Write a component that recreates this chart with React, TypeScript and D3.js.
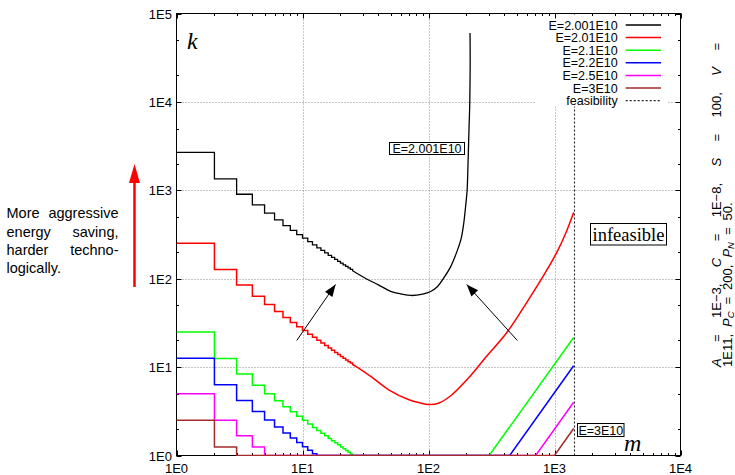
import React, { useMemo } from 'react';
import * as d3 from 'd3';

type Pt = [number, number];

const W = 735;
const H = 475;
const PLOT = { left: 176.5, right: 680.5, top: 13.5, bottom: 455.5 };

const SANS = "'Liberation Sans', Arial, Helvetica, sans-serif";
const SERIF = "'Liberation Serif', 'Times New Roman', serif";

// Axis ticks (log–log, decades)
const xTickValues = [1, 10, 100, 1000, 10000];
const xTickLabels = ['1E0', '1E1', '1E2', '1E3', '1E4'];
const yTickValues = [1, 10, 100, 1000, 10000, 100000];
const yTickLabels = ['1E0', '1E1', '1E2', '1E3', '1E4', '1E5'];
const yMinorFactors = [2, 5];

// One curve per energy budget E
const energyLabels = ['E=2.001E10', 'E=2.01E10', 'E=2.1E10', 'E=2.2E10', 'E=2.5E10', 'E=3E10'];
const seriesColors = ['#000000', '#ff0000', '#00ff00', '#0000ff', '#ff00ff', '#a52a2a'];

// k for integer m = 1, 2, 3, ... (stepped part)
const stepsE2001 = [2680, 1347, 902, 683, 552, 462, 398, 352, 316, 287, 262, 241, 223, 209, 196, 184, 174, 165, 157, 150, 143.5, 137.7, 132.3, 127.3];
const stepsE201 = [252, 127, 85, 63.5, 51, 42.5, 36.5, 32, 28.6, 25.9, 23.6, 21.7, 20.1, 18.7, 17.5, 16.4, 15.5, 14.6, 13.9, 13.2, 12.6, 12.0, 11.5, 11.1];
const stepsE21 = [25, 12.5, 8.33, 6.25, 5, 4.17, 3.57, 3.13, 2.78, 2.5, 2.27, 2.08, 1.92, 1.79, 1.67, 1.56, 1.47, 1.39, 1.32, 1.25, 1.19, 1.14, 1.09, 1.04];
const stepsE22 = [12.6, 6.3, 4.2, 3.15, 2.52, 2.1, 1.8, 1.58, 1.4, 1.26, 1.15, 1.05];
const stepsE25 = [5, 2.5, 1.67, 1.25];
const stepsE3 = [2.5, 1.25];

// continuation after the last step, as [m, k]
const tailE2001: Pt[] = [
  [25, 123], [32, 100], [40, 85.3], [49, 73], [60, 67.5], [73, 64.6], [90, 67], [104, 71.6],
  [118, 81.6], [132, 101.6], [150, 137], [170, 212], [182, 288], [190.5, 425], [197, 656],
  [202.5, 1000], [206, 2032], [209.5, 4830], [212.6, 10000], [213.5, 60000],
];
const tailE201: Pt[] = [
  [25, 10.7], [26.5, 10.2], [35, 7.8], [48.7, 5.5], [70, 4.27], [85, 3.95], [101, 3.78],
  [120, 3.9], [147.5, 4.65], [212, 7.8], [288, 13.2], [416, 24.3], [598, 53], [811, 106],
  [1036, 195], [1230, 329], [1419, 561],
];
const tailE21: Pt[] = [[25, 1], [303, 1], [1419, 21.6]];
const tailE22: Pt[] = [[13, 1], [441, 1], [1419, 10.35]];
const tailE25: Pt[] = [[5, 1], [709, 1], [1419, 4.0]];
const tailE3: Pt[] = [[3, 1], [1000, 1], [1419, 2.02]];

const seriesSteps = [stepsE2001, stepsE201, stepsE21, stepsE22, stepsE25, stepsE3];
const seriesTails = [tailE2001, tailE201, tailE21, tailE22, tailE25, tailE3];
const seriesSmooth = [true, true, false, false, false, false];

// largest feasible m
const feasibilityM = 1419;

// annotation arrows, [tail, tip] in data coordinates
const arrowLeft: Pt[] = [[9, 20], [18.3, 86]];
const arrowRight: Pt[] = [[507, 20], [201, 86]];

const leftTextLines = [['More', 'aggressive'], ['energy', 'saving,'], ['harder', 'techno-'], ['logically.']];

type Tok = { t: string; it?: boolean; sub?: string };
const paramLine1: Tok[] = [
  { t: 'A', it: true }, { t: '=' }, { t: '1E−3,' }, { t: 'C', it: true }, { t: '=' }, { t: '1E−8,' },
  { t: 'S', it: true }, { t: '=' }, { t: '100,' }, { t: 'V', it: true }, { t: '=' },
];
const paramLine2: Tok[] = [
  { t: '1E11,' }, { t: 'P', it: true, sub: 'C' }, { t: '=' }, { t: '200,' }, { t: 'P', it: true, sub: 'N' },
  { t: '=' }, { t: '50.' },
];

const PARAM_SIZE = 13;
const PARAM_SUB = 9.5;

function arrowHead(x1: number, y1: number, x2: number, y2: number, len: number, half: number) {
  const dx = x2 - x1;
  const dy = y2 - y1;
  const L = Math.hypot(dx, dy);
  const ux = dx / L;
  const uy = dy / L;
  const bx = x2 - ux * len;
  const by = y2 - uy * len;
  return `${x2},${y2} ${bx - uy * half},${by + ux * half} ${bx + uy * half},${by - ux * half}`;
}

function useTokenLayout(tokens: Tok[], size: number, subSize: number, total: number | null, gap: number) {
  return useMemo(() => {
    let ctx: CanvasRenderingContext2D | null = null;
    try {
      ctx = document.createElement('canvas').getContext('2d');
    } catch (e) {
      ctx = null;
    }
    const measure = (s: string, italic: boolean, px: number) => {
      if (!ctx) return s.length * px * 0.56;
      ctx.font = `${italic ? 'italic ' : ''}${px}px 'Liberation Sans'`;
      return ctx.measureText(s).width;
    };
    const widths = tokens.map((tk) => measure(tk.t, !!tk.it, size) + (tk.sub ? measure(tk.sub, true, subSize) : 0));
    const sum = widths.reduce((a, b) => a + b, 0);
    const g = total != null ? (total - sum) / (tokens.length - 1) : gap;
    const pos: number[] = [];
    let acc = 0;
    widths.forEach((w) => {
      pos.push(acc);
      acc += w + g;
    });
    return pos;
  }, [tokens, size, subSize, total, gap]);
}

export default function App() {
  const x = d3.scaleLog().domain([1, 1e4]).range([PLOT.left, PLOT.right]);
  const y = d3.scaleLog().domain([1, 1e5]).range([PLOT.bottom, PLOT.top]);

  const stepLine = d3.line<Pt>().x((d) => x(d[0])).y((d) => y(d[1])).curve(d3.curveStepAfter);
  const smoothLine = d3.line<Pt>().x((d) => x(d[0])).y((d) => y(d[1])).curve(d3.curveCatmullRom.alpha(0.5));
  const straightLine = d3.line<Pt>().x((d) => x(d[0])).y((d) => y(d[1])).curve(d3.curveLinear);

  const curvePaths = seriesSteps.map((steps, i) => {
    const tail = seriesTails[i];
    const pts: Pt[] = steps.map((k, j) => [j + 1, k] as Pt);
    pts.push(tail[0]);
    const a = stepLine(pts) || '';
    const b = (seriesSmooth[i] ? smoothLine : straightLine)(tail) || '';
    return a + b.replace(/^M/, 'L');
  });

  const xMinor: number[] = [];
  for (let d = 0; d < 4; d++) for (let j = 2; j <= 9; j++) xMinor.push(j * Math.pow(10, d));
  const yMinor: number[] = [];
  for (let d = 0; d < 5; d++) yMinorFactors.forEach((j) => yMinor.push(j * Math.pow(10, d)));

  const pos1 = useTokenLayout(paramLine1, PARAM_SIZE, PARAM_SUB, 324, 0);
  const pos2 = useTokenLayout(paramLine2, PARAM_SIZE, PARAM_SUB, null, 7);

  const gridColor = '#8c8c8c';
  const majorLen = 5;
  const minorLen = 2.5;

  const legendX = 617.7;
  const legendLineX1 = 625.7;
  const legendLineX2 = 661;
  const legendY0 = 25;
  const legendDy = 12.6;

  const a1 = arrowLeft.map((p) => [x(p[0]), y(p[1])]);
  const a2 = arrowRight.map((p) => [x(p[0]), y(p[1])]);

  const renderTokens = (tokens: Tok[], pos: number[], yOff: number) =>
    tokens.map((tk, i) => (
      <text
        key={i}
        x={pos[i]}
        y={yOff}
        fontSize={PARAM_SIZE}
        fontStyle={tk.it ? 'italic' : 'normal'}
        fontFamily={SANS}
      >
        {tk.t}
        {tk.sub ? (
          <tspan fontSize={PARAM_SUB} dy={2.5}>
            {tk.sub}
          </tspan>
        ) : null}
      </text>
    ));

  return (
    <svg width={W} height={H} style={{ position: 'absolute', left: 0, top: 0, background: '#fff' }}>
      <defs>
        <clipPath id="plotClip">
          <rect x={PLOT.left} y={PLOT.top - 1} width={PLOT.right - PLOT.left} height={PLOT.bottom - PLOT.top + 1.6} />
        </clipPath>
      </defs>
      <rect x={0} y={0} width={W} height={H} fill="#fff" />

      {/* grid */}
      <g stroke={gridColor} strokeWidth={1} strokeDasharray="1,2">
        {yTickValues.slice(1, -1).map((v) => (
          <line key={'gy' + v} x1={PLOT.left} x2={PLOT.right} y1={Math.round(y(v)) + 0.5} y2={Math.round(y(v)) + 0.5} />
        ))}
        {xTickValues.slice(1, -1).map((v) => (
          <line key={'gx' + v} x1={Math.round(x(v)) + 0.5} x2={Math.round(x(v)) + 0.5} y1={PLOT.top} y2={PLOT.bottom} />
        ))}
      </g>

      {/* feasibility limit */}
      <line
        x1={Math.round(x(feasibilityM)) + 0.5}
        x2={Math.round(x(feasibilityM)) + 0.5}
        y1={PLOT.top}
        y2={PLOT.bottom}
        stroke="#222"
        strokeWidth={1.1}
        strokeDasharray="2,2"
      />

      {/* legend background */}
      <rect x={535} y={14.5} width={133} height={92} fill="#fff" />

      {/* border */}
      <rect
        x={PLOT.left}
        y={PLOT.top}
        width={PLOT.right - PLOT.left}
        height={PLOT.bottom - PLOT.top}
        fill="none"
        stroke="#000"
        strokeWidth={1}
      />

      {/* ticks */}
      <g stroke="#000" strokeWidth={1}>
        {xTickValues.map((v) => {
          const px = Math.round(x(v)) + 0.5;
          return (
            <g key={'xt' + v}>
              <line x1={px} x2={px} y1={PLOT.bottom} y2={PLOT.bottom - majorLen} />
              <line x1={px} x2={px} y1={PLOT.top} y2={PLOT.top + majorLen} />
            </g>
          );
        })}
        {xMinor.map((v) => {
          const px = Math.round(x(v)) + 0.5;
          return (
            <g key={'xm' + v}>
              <line x1={px} x2={px} y1={PLOT.bottom} y2={PLOT.bottom - minorLen} />
              <line x1={px} x2={px} y1={PLOT.top} y2={PLOT.top + minorLen} />
            </g>
          );
        })}
        {yTickValues.map((v) => {
          const py = Math.round(y(v)) + 0.5;
          return (
            <g key={'yt' + v}>
              <line x1={PLOT.left} x2={PLOT.left + majorLen} y1={py} y2={py} />
              <line x1={PLOT.right} x2={PLOT.right - majorLen} y1={py} y2={py} />
            </g>
          );
        })}
        {yMinor.map((v) => {
          const py = Math.round(y(v)) + 0.5;
          return (
            <g key={'ym' + v}>
              <line x1={PLOT.left} x2={PLOT.left + minorLen} y1={py} y2={py} />
              <line x1={PLOT.right} x2={PLOT.right - minorLen} y1={py} y2={py} />
            </g>
          );
        })}
      </g>

      {/* tick labels */}
      <g fontFamily={SANS} fontSize={13} fill="#000">
        {xTickValues.map((v, i) => (
          <text key={'xl' + v} x={x(v)} y={472.5} textAnchor="middle">
            {xTickLabels[i]}
          </text>
        ))}
        {yTickValues.map((v, i) => (
          <text key={'yl' + v} x={172} y={y(v) + 5} textAnchor="end">
            {yTickLabels[i]}
          </text>
        ))}
      </g>

      {/* curves */}
      <g clipPath="url(#plotClip)" fill="none" strokeLinejoin="miter">
        {curvePaths.map((d, i) => (
          <path key={'c' + i} d={d} stroke={seriesColors[i]} strokeWidth={i === 0 ? 1.3 : 1.5} />
        ))}
      </g>

      {/* legend */}
      <g fontFamily={SANS} fontSize={12.5}>
        {energyLabels.map((lab, i) => {
          const cy = legendY0 + i * legendDy;
          return (
            <g key={'lg' + i}>
              <text x={legendX} y={cy + 4.5} textAnchor="end">
                {lab}
              </text>
              <line x1={legendLineX1} x2={legendLineX2} y1={cy} y2={cy} stroke={seriesColors[i]} strokeWidth={1.5} />
            </g>
          );
        })}
        <text x={legendX} y={legendY0 + 6 * legendDy + 4.5} textAnchor="end">
          feasibility
        </text>
        <line
          x1={legendLineX1}
          x2={legendLineX2}
          y1={legendY0 + 6 * legendDy}
          y2={legendY0 + 6 * legendDy}
          stroke="#222"
          strokeWidth={1.1}
          strokeDasharray="2,2"
        />
      </g>

      {/* arrows toward the k minimum */}
      <g stroke="#000" fill="#000">
        <line x1={a1[0][0]} y1={a1[0][1]} x2={a1[1][0]} y2={a1[1][1]} strokeWidth={1} />
        <polygon points={arrowHead(a1[0][0], a1[0][1], a1[1][0], a1[1][1], 12, 4.5)} stroke="none" />
        <line x1={a2[0][0]} y1={a2[0][1]} x2={a2[1][0]} y2={a2[1][1]} strokeWidth={1} />
        <polygon points={arrowHead(a2[0][0], a2[0][1], a2[1][0], a2[1][1], 12, 4.5)} stroke="none" />
      </g>

      {/* curve labels */}
      <g fontFamily={SANS} fontSize={12.5}>
        <rect x={389.5} y={142.5} width={75} height={12} fill="#fff" stroke="#000" strokeWidth={1} />
        <text x={427} y={153} textAnchor="middle">
          E=2.001E10
        </text>
        <rect x={577.5} y={423.5} width={46.5} height={13} fill="#fff" stroke="#000" strokeWidth={1} />
        <text x={600.8} y={434.5} textAnchor="middle">
          E=3E10
        </text>
      </g>
      <rect x={590.5} y={223.5} width={76} height={21.5} fill="#fff" stroke="#000" strokeWidth={1} />
      <text x={628.5} y={240.5} textAnchor="middle" fontFamily={SERIF} fontSize={18.5}>
        infeasible
      </text>

      {/* axis names */}
      <text x={187} y={48.5} fontFamily={SERIF} fontStyle="italic" fontSize={24}>
        k
      </text>
      <text x={624} y={451} fontFamily={SERIF} fontStyle="italic" fontSize={24}>
        m
      </text>

      {/* left note with red arrow */}
      <g fontFamily={SANS} fontSize={14.5} fill="#000">
        {leftTextLines.map((words, i) => {
          const by = 218.3 + i * 18.3;
          return (
            <g key={'lt' + i}>
              <text x={6.5} y={by}>
                {words[0]}
              </text>
              {words.length > 1 ? (
                <text x={118.5} y={by} textAnchor="end">
                  {words[1]}
                </text>
              ) : null}
            </g>
          );
        })}
      </g>
      <line x1={134.5} x2={134.5} y1={287} y2={178} stroke="#ff0000" strokeWidth={2.5} />
      <polygon points="134.5,164 129,183 140,183" fill="#ff0000" />

      {/* model parameters */}
      <g transform="translate(720.5,367) rotate(-90)">
        {renderTokens(paramLine1, pos1, 0)}
        {renderTokens(paramLine2, pos2, 11)}
      </g>
    </svg>
  );
}
